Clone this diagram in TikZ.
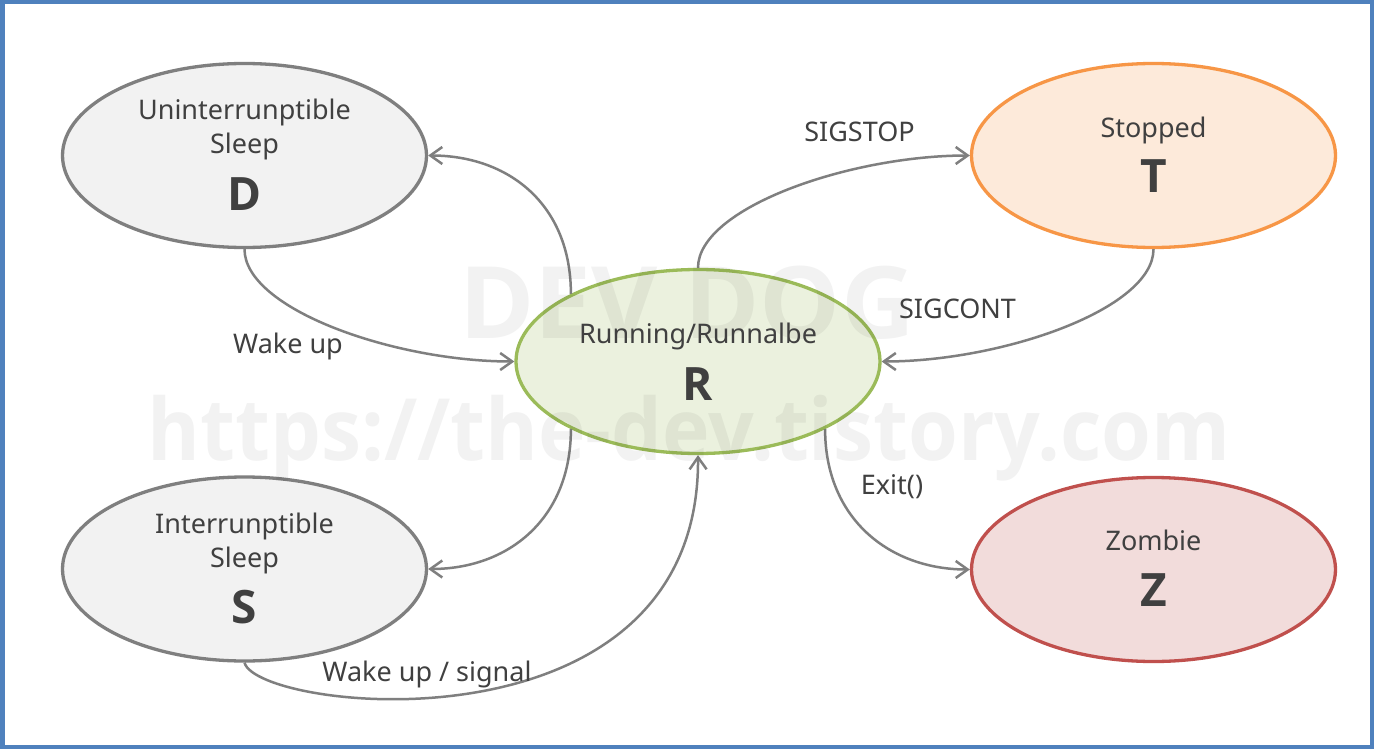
\documentclass[tikz,border=0pt]{standalone}
\usepackage{fontspec}
\setmainfont{Noto Sans}
\newfontfamily\bfam{Open Sans}
\usetikzlibrary{arrows.meta,shapes.geometric,calc}
\definecolor{frameblue}{HTML}{4F81BD}
\definecolor{grayline}{HTML}{7F7F7F}
\definecolor{grayfill}{HTML}{F2F2F2}
\definecolor{txt}{HTML}{404040}
\definecolor{orline}{HTML}{F79646}
\definecolor{orfill}{HTML}{FDEADA}
\definecolor{grline}{HTML}{9BBB59}
\definecolor{grfill}{HTML}{EBF1DE}
\definecolor{rdline}{HTML}{C0504D}
\definecolor{rdfill}{HTML}{F2DCDB}
\begin{document}
\begin{tikzpicture}[x=1pt,y=-1pt,
  state/.style={ellipse, minimum width=364pt, minimum height=184pt, inner sep=0pt, line width=3.3pt},
  small/.style={anchor=base, inner sep=0pt, text=txt, font=\fontsize{27}{32}\selectfont},
  big/.style={anchor=base, inner sep=0pt, text=txt, font=\bfam\fontsize{46}{50}\selectfont\bfseries},
  conn/.style={draw=grayline, line width=2.5pt, -{Straight Barb[length=12pt,width=17pt]}},
  wm/.style={inner sep=0pt, anchor=base, text=black, text opacity=0.05}
]
\useasboundingbox (0,0) rectangle (1374,749);
\fill[white] (0,0) rectangle (1374,749);
\draw[frameblue, line width=4.5pt] (2.25,2.25) rectangle (1371.75,746.75);

% states
\node[state, draw=grayline, fill=grayfill] (D) at (244.5,155.5) {};
\node[state, draw=grayline, fill=grayfill] (S) at (244.5,569) {};
\node[state, draw=orline, fill=orfill] (T) at (1153.5,155.5) {};
\node[state, draw=rdline, fill=rdfill] (Z) at (1153.5,569.5) {};
\node[state, draw=grline, fill=grfill] (R) at (698,361.5) {};

% connectors
\draw[conn] (R.152) .. controls +(0,-90) and +(80,0) .. (D.east);
\draw[conn] (D.south) .. controls +(0,60) and +(-120,0) .. (R.west);
\draw[conn] (R.north) .. controls +(0,-60) and +(-120,0) .. (T.west);
\draw[conn] (T.south) .. controls +(0,60) and +(120,0) .. (R.east);
\draw[conn] (R.208) .. controls +(0,90) and +(80,0) .. (S.east);
\draw[conn] (S.south) .. controls (258,712) and (700,760) .. (R.south);
\draw[conn] (R.-28) .. controls +(0,90) and +(-80,0) .. (Z.west);

% watermark
\node[wm, font=\bfam\fontsize{100}{104}\selectfont\bfseries, xscale=1.02] (wm1) at (687,338) {DEV DOG};
\node[wm, font=\bfam\fontsize{86}{90}\selectfont\bfseries, xscale=0.935] (wm2) at (689,460) {https://the-dev.tistory.com};

% state texts
\node[small] (Dl1) at ($(D.center)+(0,-35.5)$) {Uninterrunptible};
\node[small] (Dl2) at ($(D.center)+(0,-1.5)$) {Sleep};
\node[big] (Dl3) at ($(D.center)+(0,54.5)$) {D};
\node[small] (Sl1) at ($(S.center)+(0,-35.5)$) {Interrunptible};
\node[small] (Sl2) at ($(S.center)+(0,-1.5)$) {Sleep};
\node[big] (Sl3) at ($(S.center)+(0,54.5)$) {S};
\node[small] (Tl1) at ($(T.center)+(0,-17.5)$) {Stopped};
\node[big] (Tl2) at ($(T.center)+(0,37)$) {T};
\node[small] (Rl1) at ($(R.center)+(0,-18)$) {Running/Runnalbe};
\node[big] (Rl2) at ($(R.center)+(0,38.5)$) {R};
\node[small] (Zl1) at ($(Z.center)+(0,-19)$) {Zombie};
\node[big] (Zl2) at ($(Z.center)+(0,36.5)$) {Z};

% connector labels
\node[small] (lwake) at (288,353) {Wake up};
\node[small] (lstop) at (859.5,141.7) {SIGSTOP};
\node[small] (lcont) at (957.5,318) {SIGCONT};
\node[small] (lexit) at (892,494) {Exit()};
\node[small] (lsig) at (427,681.7) {Wake up / signal};
\end{tikzpicture}
\end{document}
